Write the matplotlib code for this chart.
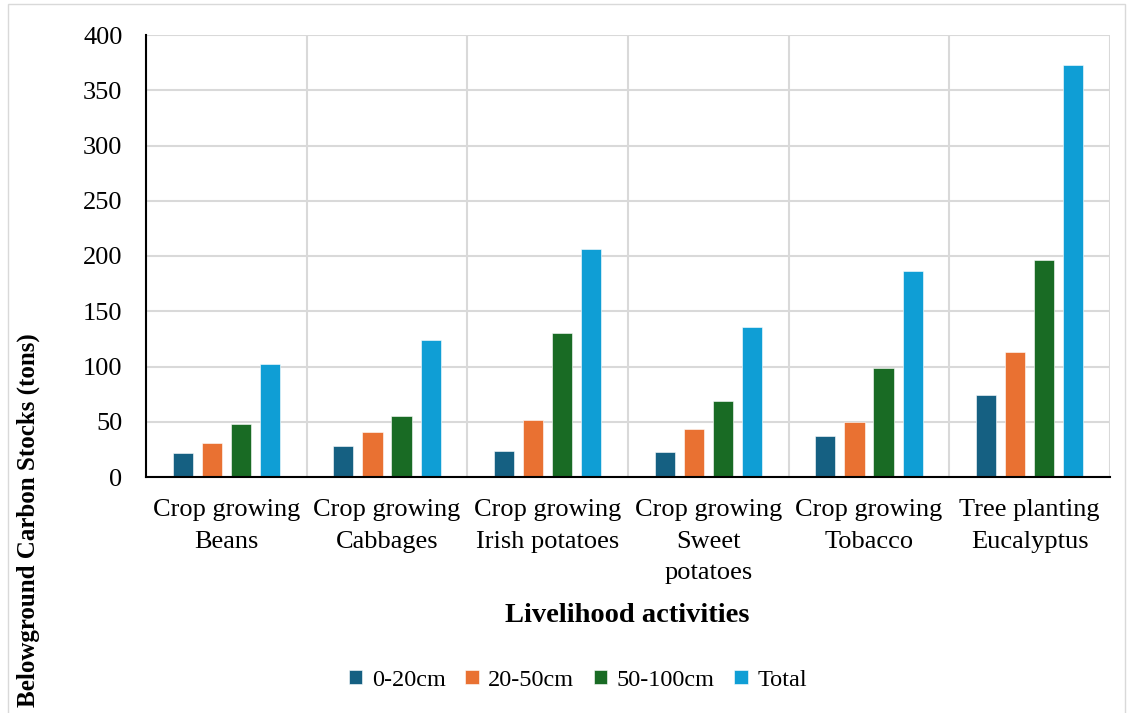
import numpy as np
import matplotlib.pyplot as plt
from matplotlib.patches import Rectangle

plt.rcParams['font.family'] = ['Liberation Serif', 'DejaVu Serif']

activities = ["Crop growing\nBeans", "Crop growing\nCabbages", "Crop growing\nIrish potatoes",
              "Crop growing\nSweet\npotatoes", "Crop growing\nTobacco", "Tree planting\nEucalyptus"]
depth_0_20 = [22, 28, 23.5, 23, 37.5, 74]
depth_20_50 = [31, 40.5, 51.5, 43.5, 50, 113.5]
depth_50_100 = [48, 55.5, 130.5, 69, 98.5, 196.5]
total = [102, 124, 206, 135.5, 186.5, 373]

series = [("0-20cm", depth_0_20, "#156082"),
          ("20-50cm", depth_20_50, "#E97132"),
          ("50-100cm", depth_50_100, "#196B24"),
          ("Total", total, "#0F9ED5")]

fig = plt.figure(figsize=(11.33, 7.13), dpi=100)
ax = fig.add_axes([146/1133, 1 - 477/713, (1110 - 146)/1133, (477 - 35)/713])

x = np.arange(len(activities)) + 0.5
step = 0.181
width = 0.125
for i, (name, vals, col) in enumerate(series):
    ax.bar(x + (i - 1.5) * step, vals, width, color=col, label=name,
           edgecolor="white", linewidth=0.4, zorder=3)

ax.set_xlim(0, len(activities))
ax.set_ylim(0, 400)
ax.set_yticks(np.arange(0, 401, 50))
ax.set_xticks(x)
ax.set_xticklabels(activities, fontsize=19, linespacing=1.55)
ax.set_xticks(np.arange(0, len(activities) + 1), minor=True)
ax.tick_params(axis='both', which='both', length=0)
ax.tick_params(axis='y', labelsize=19, pad=17)
ax.tick_params(axis='x', pad=16)

ax.grid(axis='y', color="#d9d9d9", linewidth=1.5, zorder=0)
ax.grid(axis='x', which='minor', color="#d9d9d9", linewidth=1.5, zorder=0)
ax.grid(axis='x', which='major', visible=False)
for s in ["top", "right"]:
    ax.spines[s].set_visible(False)
ax.spines["left"].set_linewidth(1.5)
ax.spines["bottom"].set_linewidth(1.5)
ax.spines["left"].set_zorder(4)
ax.spines["bottom"].set_zorder(4)

fig.text(627/1133, 1 - 616/713, "Livelihood activities", fontsize=20.5,
         fontweight="bold", ha="center", va="center")
fig.text(28/1133, 1 - 520/713, "Belowground Carbon Stocks (tons)", fontsize=18,
         fontweight="bold", rotation=90, ha="center", va="center")

fig.legend(loc="center", bbox_to_anchor=(578/1133, 1 - 680/713), ncol=4, frameon=False,
           fontsize=17.5, handlelength=0.55, handleheight=0.55, handletextpad=0.4,
           columnspacing=0.8)

# thin frame around the chart area
fig.patches.append(Rectangle((8/1133, -0.01), 1 - 16/1133, 1 - 4/713 + 0.01,
                             transform=fig.transFigure, fill=False,
                             edgecolor="#d9d9d9", linewidth=1))

fig.savefig("out.png", dpi=100)
